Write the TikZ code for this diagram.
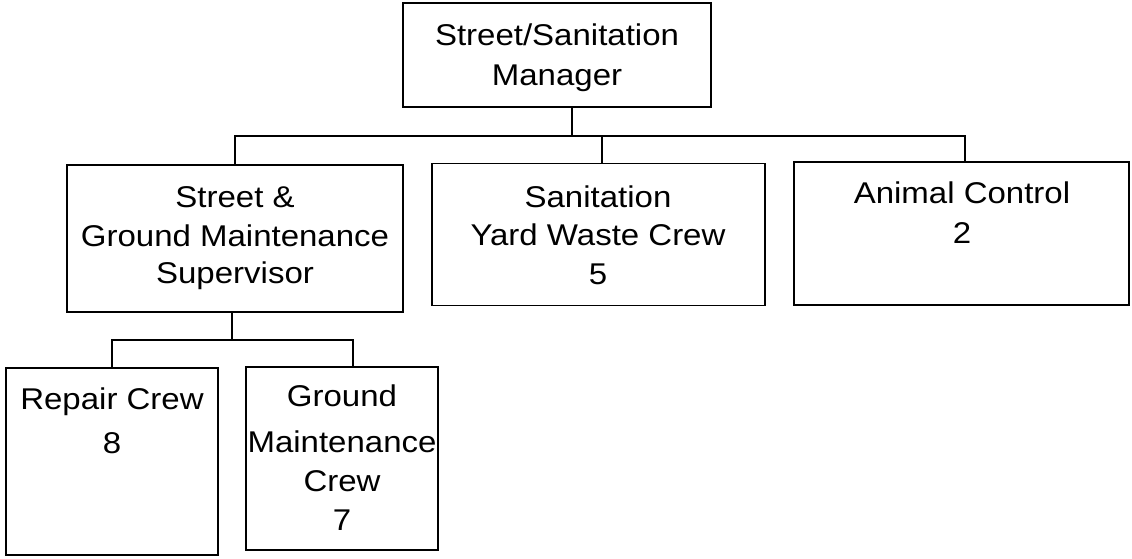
\documentclass[tikz,border=0pt]{standalone}
\usepackage{fontspec}
\setmainfont{Liberation Sans}[FakeStretch=1.1]
\begin{document}
\begin{tikzpicture}[x=1pt,y=-1pt,
  box/.style={draw=black,line width=1.5pt,inner sep=0pt,rectangle},
  txt/.style={anchor=base,inner sep=0pt,font=\fontsize{30}{36}\selectfont},
  conn/.style={draw=black,line width=1.5pt}]
\useasboundingbox[fill=white] (0,0) rectangle (1132,558);
% boxes (centre, width, height in px)
\node[box,minimum width=308pt,minimum height=104pt] (mgr) at (557,55) {};
\node[box,minimum width=336pt,minimum height=147pt] (sup) at (235,238.5) {};
\node[box,minimum width=333pt,minimum height=142pt] (san) at (598.5,234.5) {};
\node[box,minimum width=335pt,minimum height=143pt] (ani) at (961.5,233.5) {};
\node[box,minimum width=212pt,minimum height=187pt] (rep) at (112,461.5) {};
\node[box,minimum width=192pt,minimum height=183pt] (gro) at (342,458.5) {};
% connectors
\coordinate (bus1) at ([xshift=15pt,yshift=-28pt]mgr.south);
\coordinate (bus2) at ([xshift=-3pt,yshift=-27pt]sup.south);
\coordinate (sanN) at ([xshift=3.5pt]san.north);
\draw[conn] ([xshift=15pt]mgr.south) -- (bus1);
\draw[conn] (sup.north) |- (bus1);
\draw[conn] (bus1) -| ([xshift=3.5pt]ani.north);
\draw[conn] (bus1 -| sanN) -- (sanN);
\draw[conn] ([xshift=-3pt]sup.south) -- (bus2);
\draw[conn] (rep.north) |- (bus2);
\draw[conn] (bus2) -| ([xshift=11pt]gro.north);
% texts
\node[txt] (t1) at (557,45) {Street/Sanitation};
\node[txt] (t2) at (557,85) {Manager};
\node[txt] (t3) at (235,207) {Street \&};
\node[txt] (t4) at (235,246) {Ground Maintenance};
\node[txt] (t5) at (235,283) {Supervisor};
\node[txt] (t6) at (598,207) {Sanitation};
\node[txt] (t7) at (598,245) {Yard Waste Crew};
\node[txt] (t8) at (598,284) {5};
\node[txt] (t9) at (962,203) {Animal Control};
\node[txt] (t10) at (962,243) {2};
\node[txt] (t11) at (112,409) {Repair Crew};
\node[txt] (t12) at (112,453) {8};
\node[txt] (t13) at (342,406) {Ground};
\node[txt] (t14) at (342,452) {Maintenance};
\node[txt] (t15) at (342,491) {Crew};
\node[txt] (t16) at (342,530) {7};
\end{tikzpicture}
\end{document}
